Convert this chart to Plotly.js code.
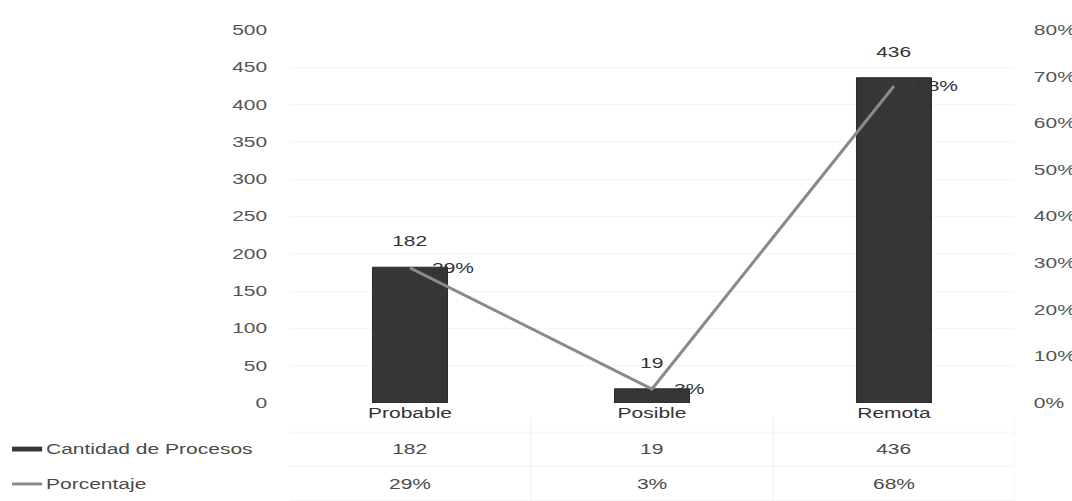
<!DOCTYPE html>
<html>
<head>
<meta charset="utf-8">
<script src="https://cdn.plot.ly/plotly-3.0.1.min.js"></script>
<style>
html,body{margin:0;padding:0;background:#fff;}
#chart{width:1072px;height:501px;}
</style>
</head>
<body>
<div id="chart"></div>
<script>
const categories = ["Probable", "Posible", "Remota"];
const cantidad = [182, 19, 436];
const porcentaje = [0.29, 0.03, 0.68];
const porcentajeLabels = ["29%", "3%", "68%"];
const seriesNames = ["Cantidad de Procesos", "Porcentaje"];

const fontFam = '"Liberation Sans", Arial, sans-serif';
const txtColor = '#4a4a4a';
const fs = 14;
const STRETCH = 1.5;

const traces = [
  {
    type: 'bar', x: categories, y: cantidad, name: seriesNames[0],
    marker: {color: '#363636', line: {color: '#2a2a2a', width: 1}},
    width: 0.31, showlegend: false, hoverinfo: 'skip'
  },
  {
    type: 'scatter', mode: 'lines', x: categories, y: porcentaje, name: seriesNames[1],
    yaxis: 'y2', line: {color: '#8a8a8a', width: 3}, showlegend: false, hoverinfo: 'skip'
  }
];

const annotations = [];
categories.forEach((c, i) => {
  annotations.push({x: c, y: cantidad[i], xref: 'x', yref: 'y', text: String(cantidad[i]),
    showarrow: false, yanchor: 'bottom', yshift: 16, font: {family: fontFam, size: fs, color: '#333'}});
  annotations.push({x: c, y: porcentaje[i], xref: 'x', yref: 'y2', text: porcentajeLabels[i],
    showarrow: false, xanchor: 'left', align: 'left', yanchor: 'middle', xshift: 20,
    font: {family: fontFam, size: fs, color: '#333'}});
  // data table values
  annotations.push({x: c, y: -0.123, xref: 'x', yref: 'paper', text: String(cantidad[i]),
    showarrow: false, yanchor: 'middle', font: {family: fontFam, size: fs, color: txtColor}});
  annotations.push({x: c, y: -0.217, xref: 'x', yref: 'paper', text: porcentajeLabels[i],
    showarrow: false, yanchor: 'middle', font: {family: fontFam, size: fs, color: txtColor}});
});
// table row labels
annotations.push({x: -0.3375, y: -0.123, xref: 'paper', yref: 'paper', text: seriesNames[0],
  showarrow: false, xanchor: 'left', align: 'left', yanchor: 'middle', font: {family: fontFam, size: fs, color: txtColor}});
annotations.push({x: -0.3375, y: -0.217, xref: 'paper', yref: 'paper', text: seriesNames[1],
  showarrow: false, xanchor: 'left', align: 'left', yanchor: 'middle', font: {family: fontFam, size: fs, color: txtColor}});

const shapes = [
  // legend keys
  {type: 'rect', xref: 'paper', yref: 'paper', x0: -0.3815, x1: -0.340, y0: -0.117, y1: -0.130,
    fillcolor: '#363636', line: {width: 0}},
  {type: 'line', xref: 'paper', yref: 'paper', x0: -0.3815, x1: -0.340, y0: -0.217, y1: -0.217,
    line: {color: '#8a8a8a', width: 3}},
  // faint table grid
  {type: 'line', xref: 'paper', yref: 'paper', x0: 0, x1: 1, y0: -0.078, y1: -0.078, line: {color: '#f3f3f3', width: 1}},
  {type: 'line', xref: 'paper', yref: 'paper', x0: 0, x1: 1, y0: -0.170, y1: -0.170, line: {color: '#f3f3f3', width: 1}},
  {type: 'line', xref: 'paper', yref: 'paper', x0: 0, x1: 1, y0: -0.262, y1: -0.262, line: {color: '#f3f3f3', width: 1}}
];
[0.5, 1.5, 2.5].forEach(v => shapes.push({type: 'line', xref: 'x', yref: 'paper', x0: v, x1: v, y0: -0.04, y1: -0.262,
  line: {color: '#f0f0f0', width: 1}}));

const layout = {
  width: 1072, height: 501,
  margin: {l: 289, r: 57, t: 30, b: 98},
  paper_bgcolor: '#fff', plot_bgcolor: '#fff',
  font: {family: fontFam, size: fs, color: txtColor},
  showlegend: false,
  xaxis: {type: 'category', range: [-0.5, 2.5], showgrid: false, zeroline: false, showline: false,
    ticks: '', tickfont: {family: fontFam, size: fs, color: '#333'}},
  yaxis: {range: [0, 500], dtick: 50, showgrid: true, gridcolor: '#f4f4f4', zeroline: false, showline: false,
    ticks: 'outside', ticklen: 18, tickcolor: 'rgba(0,0,0,0)', tickfont: {family: fontFam, size: fs, color: '#555'}},
  yaxis2: {overlaying: 'y', side: 'right', range: [0, 0.8], dtick: 0.1, tickformat: '.0%', showgrid: false,
    zeroline: false, showline: false, ticks: 'outside', ticklen: 15, tickcolor: 'rgba(0,0,0,0)',
    tickfont: {family: fontFam, size: fs, color: '#555'}},
  annotations: annotations,
  shapes: shapes
};

Plotly.newPlot('chart', traces, layout, {displayModeBar: false, staticPlot: true}).then(gd => {
  // the reference glyphs are horizontally wide: widen each label around its own anchor
  gd.querySelectorAll('text').forEach(t => {
    const w = t.getComputedTextLength();
    if (w > 0) {
      t.setAttribute('textLength', (w * STRETCH).toFixed(1));
      t.setAttribute('lengthAdjust', 'spacingAndGlyphs');
    }
  });
});
</script>
</body>
</html>
